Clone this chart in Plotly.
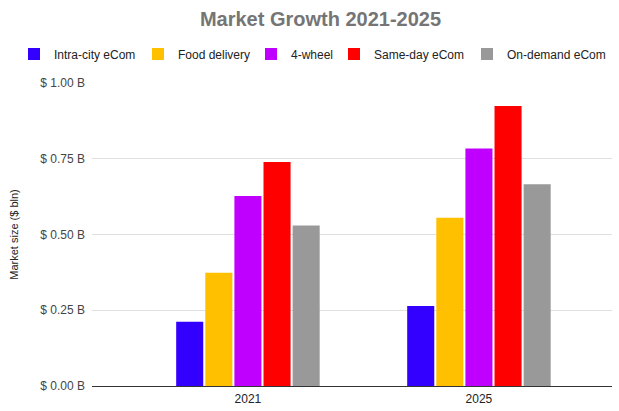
import plotly.graph_objects as go

years = ["2021", "2025"]
series_names = ["Intra-city eCom", "Food delivery", "4-wheel", "Same-day eCom", "On-demand eCom"]
intra_city = [0.212, 0.264]
food_delivery = [0.374, 0.555]
four_wheel = [0.627, 0.784]
same_day = [0.739, 0.924]
on_demand = [0.530, 0.666]
colors = ["#3300ff", "#ffc000", "#bf00ff", "#ff0000", "#999999"]
tick_vals = [0, 0.25, 0.5, 0.75, 1.0]
tick_text = ["$ 0.00 B", "$ 0.25 B", "$ 0.50 B", "$ 0.75 B", "$ 1.00 B"]

series = [intra_city, food_delivery, four_wheel, same_day, on_demand]
FONT = "Liberation Sans, Arial, sans-serif"

W, H = 619, 411
L, R, T, B = 92, 7, 83, 25

# legend text start positions (px) for each entry
legend_text_x = [52, 176, 289, 372, 505]

fig = go.Figure()
legend_layout = {}
for i, (name, vals, col) in enumerate(zip(series_names, series, colors)):
    lg = "legend" if i == 0 else f"legend{i + 1}"
    fig.add_trace(go.Bar(x=years, y=vals, name=name, legend=lg,
                         marker=dict(color=col, line=dict(width=0))))
    legend_layout[lg] = dict(
        orientation="h", xref="container", yref="container",
        x=(legend_text_x[i] - 38) / W, xanchor="left",
        y=1 - 54 / H, yanchor="middle", borderwidth=0,
        font=dict(size=12, color="#222222", family=FONT),
        itemwidth=30, bgcolor="rgba(0,0,0,0)")

fig.update_layout(
    width=W, height=H,
    margin=dict(l=L, r=R, t=T, b=B, autoexpand=False),
    paper_bgcolor="white", plot_bgcolor="white",
    font=dict(family=FONT, size=12, color="#222222"),
    barmode="group", bargap=0.37, bargroupgap=0.07,
    title=dict(text="<b>Market Growth 2021-2025</b>", x=320.5 / W, xanchor="center",
               y=1 - 19 / H, yanchor="middle", xref="container", yref="container",
               font=dict(size=20, color="#757575", family=FONT)),
    showlegend=True,
    **legend_layout,
)
fig.update_xaxes(type="category", range=[-0.675, 1.576], showgrid=False,
                 showline=False, ticks="", ticklabelstandoff=4,
                 tickfont=dict(size=12, color="#222222"))
fig.update_yaxes(range=[0, 1.0], tickvals=tick_vals, ticktext=tick_text,
                 showgrid=True, gridcolor="#e0e0e0", gridwidth=1, zeroline=True,
                 zerolinecolor="#333333", zerolinewidth=1, ticks="", ticklabelstandoff=6,
                 tickfont=dict(size=12, color="#444444"),
                 title=dict(text="Market size ($ bln)", font=dict(size=11, color="#222222"), standoff=19))
fig.write_html("out.html", config={"displayModeBar": False},
               post_script="document.body.style.margin='0';")
